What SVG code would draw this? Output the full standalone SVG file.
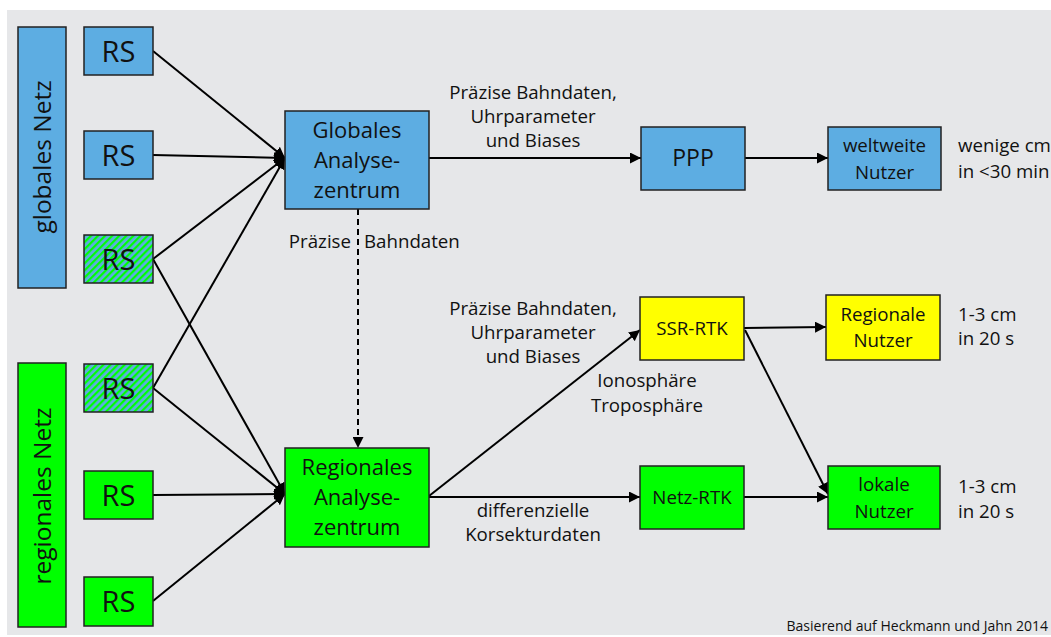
<svg xmlns="http://www.w3.org/2000/svg" width="1051" height="637" viewBox="0 0 1051 637">
<style>
  text { font-family: "Open Sans", "Noto Sans", "Liberation Sans", sans-serif; fill: #111; }
  .box { stroke: #222; stroke-width: 1.5; }
  .blue { fill: #5DADE2; }
  .green { fill: #00FF00; }
  .yellow { fill: #FFFF00; }
  .hatch { fill: url(#hatch); }
  .rs { font-size: 29px; text-anchor: middle; }
  .ctr { font-size: 22px; text-anchor: middle; }
  .lbl { font-size: 18.7px; text-anchor: middle; }
  .note { font-size: 18.7px; }
  .conn line { stroke: #000; stroke-width: 2; fill: none; }
  .arr { marker-end: url(#ah); }
  .dash { stroke-dasharray: 6 4; }
</style>
<defs>
  <pattern id="hatch" patternUnits="userSpaceOnUse" width="5" height="5" patternTransform="rotate(45)">
    <rect x="0" y="0" width="5" height="5" fill="#5DADE2"/>
    <rect x="0" y="0" width="2.2" height="5" fill="#00FF00"/>
  </pattern>
  <marker id="ah" viewBox="0 0 10 10" refX="10" refY="5" markerWidth="5.5" markerHeight="5.5" markerUnits="strokeWidth" orient="auto">
    <path d="M0,0 L10,5 L0,10 z" fill="#000"/>
  </marker>
</defs>
<rect x="0" y="0" width="1051" height="637" fill="#ffffff"/>
<rect x="7" y="10" width="1044" height="625" fill="#E6E7E9"/>

<g class="conn">
  <line x1="153" y1="51" x2="285" y2="158" class="arr"/>
  <line x1="153" y1="155" x2="285" y2="158" class="arr"/>
  <line x1="153" y1="259" x2="285" y2="158" class="arr"/>
  <line x1="153" y1="259" x2="285" y2="494" class="arr"/>
  <line x1="153" y1="388" x2="285" y2="158" class="arr"/>
  <line x1="153" y1="388" x2="285" y2="494" class="arr"/>
  <line x1="153" y1="495" x2="285" y2="494" class="arr"/>
  <line x1="153" y1="601" x2="285" y2="494" class="arr"/>
  <line x1="358" y1="209" x2="358" y2="448" class="arr dash"/>
  <line x1="429" y1="158" x2="641" y2="158" class="arr"/>
  <line x1="745" y1="158" x2="828" y2="158" class="arr"/>
  <line x1="429" y1="496" x2="640" y2="330" class="arr"/>
  <line x1="429" y1="497" x2="640" y2="497" class="arr"/>
  <line x1="744" y1="328" x2="826" y2="327" class="arr"/>
  <line x1="745" y1="330" x2="828" y2="494" class="arr"/>
  <line x1="744" y1="497" x2="828" y2="497" class="arr"/>
</g>

<g id="globales-netz">
  <rect class="box blue" x="18" y="27" width="48" height="261"/>
  <text font-size="24.5" text-anchor="middle" transform="translate(51,157) rotate(-90)">globales Netz</text>
</g>
<g id="regionales-netz">
  <rect class="box green" x="18" y="363" width="48" height="264"/>
  <text font-size="24.5" text-anchor="middle" transform="translate(51,496) rotate(-90)">regionales Netz</text>
</g>

<g id="rs1"><rect class="box blue" x="84" y="27" width="69" height="48"/><text class="rs" x="118.5" y="62">RS</text></g>
<g id="rs2"><rect class="box blue" x="84" y="131" width="69" height="48"/><text class="rs" x="118.5" y="166">RS</text></g>
<g id="rs3"><rect class="box hatch" x="84" y="235" width="69" height="48"/><text class="rs" x="118.5" y="270">RS</text></g>
<g id="rs4"><rect class="box hatch" x="84" y="364" width="69" height="48"/><text class="rs" x="118.5" y="399">RS</text></g>
<g id="rs5"><rect class="box green" x="84" y="471" width="69" height="48"/><text class="rs" x="118.5" y="506">RS</text></g>
<g id="rs6"><rect class="box green" x="84" y="577" width="69" height="49"/><text class="rs" x="118.5" y="612">RS</text></g>

<g id="globales-analysezentrum">
  <rect class="box blue" x="285" y="111" width="144" height="98"/>
  <text class="ctr" x="357" y="138">Globales</text>
  <text class="ctr" x="357" y="168">Analyse-</text>
  <text class="ctr" x="357" y="198">zentrum</text>
</g>
<g id="regionales-analysezentrum">
  <rect class="box green" x="285" y="448" width="144" height="99"/>
  <text class="ctr" x="357" y="475">Regionales</text>
  <text class="ctr" x="357" y="505">Analyse-</text>
  <text class="ctr" x="357" y="535">zentrum</text>
</g>

<g id="ppp">
  <rect class="box blue" x="641" y="127" width="104" height="63"/>
  <text x="693" y="166" font-size="23" text-anchor="middle">PPP</text>
</g>
<g id="weltweite-nutzer">
  <rect class="box blue" x="828" y="127" width="113" height="63"/>
  <text class="lbl" x="884.5" y="152">weltweite</text>
  <text class="lbl" x="884.5" y="179">Nutzer</text>
</g>
<g id="ssr-rtk">
  <rect class="box yellow" x="640" y="297" width="104" height="63"/>
  <text class="lbl" x="692" y="335" font-size="19">SSR-RTK</text>
</g>
<g id="regionale-nutzer">
  <rect class="box yellow" x="826" y="295" width="114" height="65"/>
  <text class="lbl" x="883" y="321">Regionale</text>
  <text class="lbl" x="883" y="347">Nutzer</text>
</g>
<g id="netz-rtk">
  <rect class="box green" x="640" y="466" width="104" height="63"/>
  <text class="lbl" x="692" y="504" font-size="19">Netz-RTK</text>
</g>
<g id="lokale-nutzer">
  <rect class="box green" x="828" y="466" width="112" height="63"/>
  <text class="lbl" x="884" y="491">lokale</text>
  <text class="lbl" x="884" y="518">Nutzer</text>
</g>

<g id="labels">
  <text class="lbl" x="533" y="99">Präzise Bahndaten,</text>
  <text class="lbl" x="533" y="123">Uhrparameter</text>
  <text class="lbl" x="533" y="147">und Biases</text>
  <text class="note" x="351" y="248" text-anchor="end">Präzise</text>
  <text class="note" x="364" y="248">Bahndaten</text>
  <text class="lbl" x="533" y="315">Präzise Bahndaten,</text>
  <text class="lbl" x="533" y="339">Uhrparameter</text>
  <text class="lbl" x="533" y="363">und Biases</text>
  <text class="lbl" x="647" y="387">Ionosphäre</text>
  <text class="lbl" x="647" y="412">Troposphäre</text>
  <text class="lbl" x="533" y="517">differenzielle</text>
  <text class="lbl" x="533" y="541">Korsekturdaten</text>
  <text class="note" x="958" y="152">wenige cm</text>
  <text class="note" x="958" y="178">in &lt;30 min</text>
  <text class="note" x="958" y="321">1-3 cm</text>
  <text class="note" x="958" y="345">in 20 s</text>
  <text class="note" x="958" y="493">1-3 cm</text>
  <text class="note" x="958" y="518">in 20 s</text>
  <text x="1048" y="631" font-size="14" text-anchor="end">Basierend auf Heckmann und Jahn 2014</text>
</g>
</svg>
